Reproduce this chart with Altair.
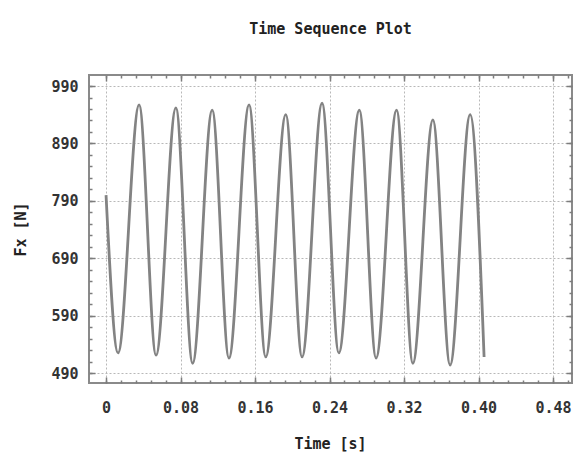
import altair as alt
import pandas as pd

# Data (extrema of the force signal)
times = [0.0, 0.0129, 0.0355, 0.0537, 0.075, 0.093, 0.114, 0.132, 0.1536, 0.1715,
         0.193, 0.2105, 0.232, 0.250, 0.272, 0.290, 0.312, 0.3295, 0.351, 0.3695,
         0.391, 0.406]
fx = [800, 525, 957, 521, 952, 507, 948, 516, 957, 518,
      940, 518, 960, 525, 948, 516, 948, 507, 931, 504,
      940, 518]

x_major = [0, 0.08, 0.16, 0.24, 0.32, 0.40, 0.48]
x_minor = [round(i * 0.016, 3) for i in range(32)]
y_major = [490, 590, 690, 790, 890, 990]
y_minor = list(range(490, 1000, 20))

df = pd.DataFrame({"t": times, "fx": fx})

W, H = 483, 308
FONT = "DejaVu Sans Mono"
GRAY = "#7d7d7d"
FS = 15

xscale = alt.Scale(domain=[-0.0183, 0.5004], nice=False, zero=False)
yscale = alt.Scale(domain=[472.6, 1009.2], nice=False, zero=False)

base = alt.Chart(df)

main = base.mark_line(color="#838383", strokeWidth=2.8, interpolate="monotone").encode(
    x=alt.X("t:Q", scale=xscale, title="Time [s]",
            axis=alt.Axis(orient="bottom", values=x_major, ticks=False, tickSize=0,
                          domain=False, grid=True, gridDash=[2, 2], gridColor="#b8b8b8",
                          labelExpr="datum.value === 0 ? '0' : format(datum.value, '.2f')",
                          labelFont=FONT, labelFontWeight="bold", labelFontSize=FS,
                          labelColor="#333333", labelPadding=17,
                          titleFont=FONT, titleFontWeight="bold", titleFontSize=FS,
                          titleColor="#222222", titleX=241, titleY=60,
                          titleBaseline="middle", titleAlign="center")),
    y=alt.Y("fx:Q", scale=yscale, title="Fx [N]",
            axis=alt.Axis(orient="left", values=y_major, ticks=False, tickSize=0,
                          domain=False, grid=True, gridDash=[2, 2], gridColor="#b8b8b8",
                          format="d",
                          labelFont=FONT, labelFontWeight="bold", labelFontSize=FS,
                          labelColor="#333333", labelPadding=11,
                          titleFont=FONT, titleFontWeight="bold", titleFontSize=FS,
                          titleColor="#222222", titleX=-69, titleY=154, titleAngle=270,
                          titleBaseline="middle", titleAlign="center")),
)


def tick_layer(xorient, yorient, xvals, yvals, size):
    return base.mark_line(opacity=0).encode(
        x=alt.X("t:Q", scale=xscale, title="",
                axis=alt.Axis(orient=xorient, offset=-H, values=xvals, labels=False,
                              grid=False, domain=False, ticks=True, tickSize=size,
                              tickColor=GRAY, tickWidth=1.5)),
        y=alt.Y("fx:Q", scale=yscale, title="",
                axis=alt.Axis(orient=yorient, offset=-W, values=yvals, labels=False,
                              grid=False, domain=False, ticks=True, tickSize=size,
                              tickColor=GRAY, tickWidth=1.5)),
    )


layers = [
    main,
    tick_layer("top", "right", x_minor, y_minor, 3),
    tick_layer("top", "right", x_major, y_major, 6),
    tick_layer("bottom", "left", x_minor, y_minor, 3),
    tick_layer("bottom", "left", x_major, y_major, 6),
]

chart = alt.layer(*layers).resolve_axis(x="independent", y="independent").properties(
    width=W, height=H,
    autosize=alt.AutoSizeParams(type="none"),
    padding={"left": 81, "top": 67, "right": 4, "bottom": 72},
    title=alt.TitleParams("Time Sequence Plot", font=FONT, fontWeight="bold",
                          fontSize=FS, color="#222222", anchor="middle", offset=37),
    background="white",
).configure_view(stroke="#8a8a8a", strokeWidth=2)

chart.save("out.html", embed_options={"renderer": "svg", "actions": False})
